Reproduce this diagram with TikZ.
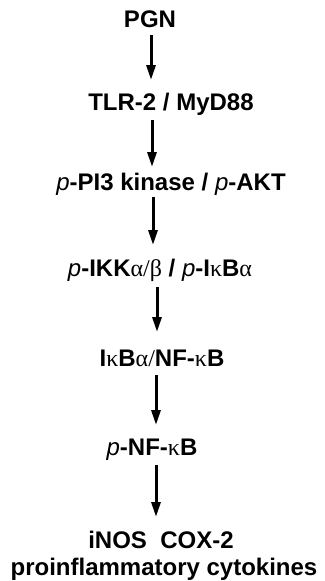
\documentclass[tikz,border=0pt]{standalone}
\usepackage{fontspec}
\setmainfont{Liberation Sans}
\newfontfamily\grk{Liberation Serif}
\usetikzlibrary{arrows.meta}
% phospho prefix and Greek letters in a thin serif face
\newcommand{\phos}{{\mdseries\itshape p}-}
\newcommand{\ga}{{\grk\mdseries\upshape α}}
\newcommand{\gb}{{\grk\mdseries\upshape β}}
\newcommand{\gk}{{\grk\mdseries\upshape κ}}
\newcommand{\thinslash}{{\grk\mdseries\upshape /}}
\begin{document}
\begin{tikzpicture}[x=1pt,y=-1pt,
  lbl/.style={anchor=base,inner sep=0pt,font=\fontsize{24}{27}\selectfont\bfseries},
  flow/.style={line width=3pt,-{Triangle[length=15pt,width=9pt]}}]
\useasboundingbox (0,0) rectangle (324,581);

\node[lbl] (pgn)  at (150,27)  {PGN};
\node[lbl] (tlr)  at (171,110) {TLR-2 / MyD88};
\node[lbl] (pi3)  at (171,190) {\phos PI3 kinase / \phos AKT};
\node[lbl] (ikk)  at (160,276) {\phos IKK\ga\thinslash\gb{} / \phos I\gk B\ga};
\node[lbl] (ikb)  at (162,366) {I\gk B\ga\thinslash NF-\gk B};
\node[lbl] (nfkb) at (152,455) {\phos NF-\gk B};
\node[lbl] (out1) at (161,548) {iNOS\ \ COX-2};
\node[lbl] (out2) at (164,575) {proinflammatory cytokines};

% arrow end points
\coordinate (a1s) at (151,35);  \coordinate (a1e) at (151,80);
\coordinate (a2s) at (152,120); \coordinate (a2e) at (152,167);
\coordinate (a3s) at (153,197); \coordinate (a3e) at (153,245);
\coordinate (a4s) at (157,287); \coordinate (a4e) at (157,332);
\coordinate (a5s) at (156,375); \coordinate (a5e) at (156,425);
\coordinate (a6s) at (156,465); \coordinate (a6e) at (156,517);

\draw[flow] (a1s) -- (a1e);
\draw[flow] (a2s) -- (a2e);
\draw[flow] (a3s) -- (a3e);
\draw[flow] (a4s) -- (a4e);
\draw[flow] (a5s) -- (a5e);
\draw[flow] (a6s) -- (a6e);
\end{tikzpicture}
\end{document}
